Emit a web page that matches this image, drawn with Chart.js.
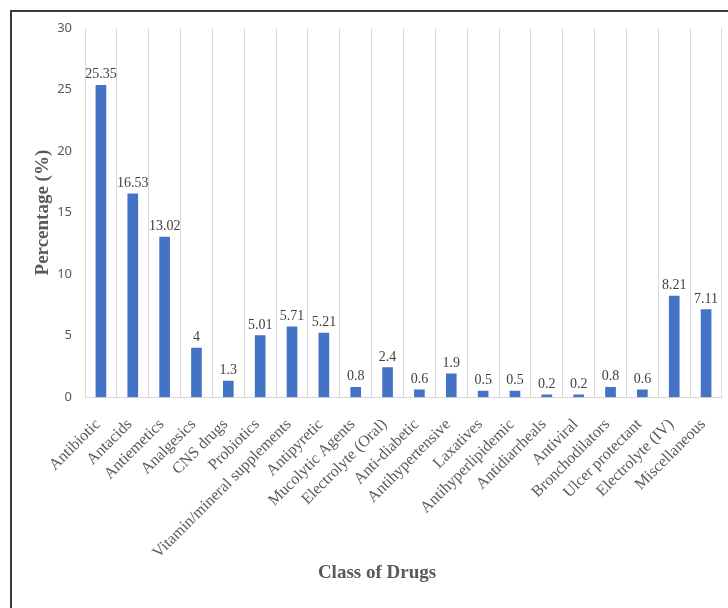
<!DOCTYPE html>
<html>
<head>
<meta charset="utf-8">
<script src="https://cdn.jsdelivr.net/npm/chart.js@4"></script>
<style>
  body { margin: 0; background: #fff; }
  #wrap { position: relative; width: 728px; height: 608px; }
  #frame { position: absolute; left: 10px; top: 10px; right: -4px; bottom: -4px;
           border-left: 2px solid #3a3a3a; border-top: 2px solid #3a3a3a; pointer-events: none; }
  canvas { position: absolute; left: 0; top: 0; }
</style>
</head>
<body>
<div id="wrap">
  <canvas id="drugChart" width="728" height="608"></canvas>
  <div id="frame"></div>
</div>
<script>
// drug classes and their share of prescriptions (%)
var drugClasses = [
  "Antibiotic", "Antacids", "Antiemetics", "Analgesics", "CNS drugs", "Probiotics",
  "Vitamin/mineral supplements", "Antipyretic", "Mucolytic Agents", "Electrolyte (Oral)",
  "Anti-diabetic", "Antihypertensive", "Laxatives", "Antihyperlipidemic", "Antidiarrheals",
  "Antiviral", "Bronchodilators", "Ulcer protectant", "Electrolyte (IV)", "Miscellaneous"
];
var percentages = [
  25.35, 16.53, 13.02, 4, 1.3, 5.01,
  5.71, 5.21, 0.8, 2.4,
  0.6, 1.9, 0.5, 0.5, 0.2,
  0.2, 0.8, 0.6, 8.21, 7.11
];
var yTicks = [0, 5, 10, 15, 20, 25, 30];

const serif = "'Liberation Serif', 'Times New Roman', serif";
const ctx = document.getElementById("drugChart").getContext("2d");

// writes the value above every bar
const barValues = {
  id: "barValues",
  afterDatasetsDraw(chart) {
    const c = chart.ctx;
    const meta = chart.getDatasetMeta(0);
    c.save();
    c.font = "14px " + serif;
    c.fillStyle = "#404040";
    c.textAlign = "center";
    c.textBaseline = "alphabetic";
    meta.data.forEach(function (bar, i) {
      c.fillText(String(percentages[i]), bar.x, bar.y - 7);
    });
    c.restore();
  },
};

var drugChart = new Chart(ctx, {
  type: "bar",
  data: {
    labels: drugClasses,
    datasets: [
      {
        label: "Percentage",
        data: percentages,
        backgroundColor: "#4472C4",
        barThickness: 10,
      },
    ],
  },
  options: {
    responsive: false,
    animation: false,
    layout: {
      padding: { left: 32, right: 6, top: 28, bottom: 24 },
    },
    plugins: {
      legend: { display: false },
      tooltip: { enabled: false },
      title: {
        display: true,
        position: "bottom",
        text: "Class of Drugs",
        color: "#595959",
        font: { family: serif, size: 19, weight: "bold" },
        padding: 0,
      },
    },
    scales: {
      x: {
        grid: {
          color: "#d9d9d9",
          drawTicks: false,
        },
        border: { color: "#d9d9d9" },
        ticks: {
          color: "#595959",
          font: { family: serif, size: 16 },
          minRotation: 45,
          maxRotation: 45,
          padding: 18,
          labelOffset: -3,
          autoSkip: false,
        },
        afterFit: function (scale) {
          scale.height = 164;
          // the slanted labels should not push the plot edges inwards
          scale.paddingLeft = 0;
          scale.paddingRight = 0;
        },
      },
      y: {
        min: 0,
        max: 30,
        grid: { display: false, drawTicks: false },
        border: { display: false },
        afterBuildTicks: function (scale) {
          scale.ticks = yTicks.map(function (v) { return { value: v }; });
        },
        ticks: {
          color: "#595959",
          font: { family: "'Noto Sans', sans-serif", size: 13 },
          padding: 13,
        },
        title: {
          display: true,
          text: "Percentage (%)",
          color: "#595959",
          font: { family: serif, size: 19, weight: "bold" },
          padding: 0,
        },
        afterFit: function (scale) {
          scale.width = 53;
        },
      },
    },
  },
  plugins: [barValues],
});
</script>
</body>
</html>
